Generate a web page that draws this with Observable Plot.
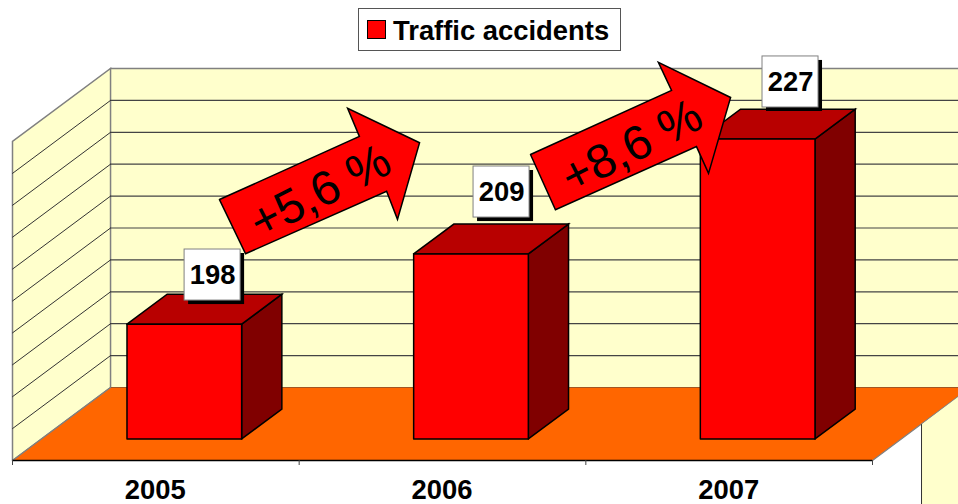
<!DOCTYPE html>
<html>
<head>
<meta charset="utf-8">
<script src="https://cdn.jsdelivr.net/npm/d3@7"></script>
<script src="https://cdn.jsdelivr.net/npm/@observablehq/plot@0.6"></script>
<style>
html,body{margin:0;padding:0;background:#fff;overflow:hidden}
#chart{position:relative;width:958px;height:504px;font-family:"Liberation Sans",Arial,sans-serif}
#chart svg{display:block}
#legend{position:absolute;left:358px;top:8px;width:261px;height:41px;background:#fff;border:1px solid #555;display:flex;align-items:center;font-weight:bold;font-size:27.4px;color:#000;white-space:nowrap}
#legend i{display:block;width:17px;height:17px;background:#f00;border:1px solid #000;margin:0 7px 0 8px}
#legend span{position:relative;top:1px}
</style>
</head>
<body>
<div id="chart"><div id="legend"><i></i><span>Traffic accidents</span></div></div>
<script>
// Data
const categories = ["2005", "2006", "2007"];
const values = [198, 209, 227];
const seriesName = "Traffic accidents";
const gridValues = [180, 185, 190, 195, 200, 205, 210, 215, 220, 225, 230];
const labelCenterX = [0.698, 1.706, 2.714];
const labelCenterY = [209.07, 222.08, 239.33];
const arrowTexts = ["+5,6 %", "+8,6 %"];
const arrowTextX = [1.074, 2.161];
const arrowTextY = [222.1, 229.2];
const arrowXs = [
  [0.722, 1.210, 1.169, 1.420, 1.343, 1.305, 0.813],
  [1.807, 2.299, 2.253, 2.505, 2.428, 2.386, 1.894]
];
const arrowYs = [
  [220.9, 230.8, 235.2, 229.8, 217.8, 222.2, 212.4],
  [227.96, 238.0, 242.4, 236.9, 225.0, 229.2, 219.3]
];

// Oblique projection, in scale units
const depthX = 0.342, depthY = 11.44;
const barFrom = 0.2985, barTo = 0.6985, depthFrom = 0.295, depthTo = 0.705;
const base = 180, top_ = 230, xEnd = 3;
const P = (x, v, d = 0) => ({x: x + d * depthX, y: v + d * depthY});
const closed = pts => [...pts, pts[0]];
const poly = (pts, fill, stroke = "none", strokeWidth = 1.5) =>
  Plot.line(closed(pts), {x: "x", y: "y", fill, stroke, strokeWidth, strokeMiterlimit: 10, strokeLinejoin: "miter"});

const marks = [];
// back and side walls
marks.push(poly([P(0, base, 1), P(0, top_, 1), P(xEnd, top_, 1), P(xEnd, base, 1)], "#FFFFCC"));
marks.push(poly([P(0, base), P(0, top_), P(0, top_, 1), P(0, base, 1)], "#FFFFCC", "#808080"));
// gridlines
gridValues.forEach(v => {
  const isTop = v === top_;
  const c = isTop ? "#808080" : "#444";
  marks.push(Plot.line([P(0, v, 1), P(xEnd, v, 1)], {x: "x", y: "y", stroke: c, strokeWidth: isTop ? 1.6 : 1.2}));
  if (!isTop && v !== base) marks.push(Plot.line([P(0, v), P(0, v, 1)], {x: "x", y: "y", stroke: "#333", strokeWidth: 1}));
});
// floor
marks.push(poly([P(0, base), P(xEnd, base), P(xEnd, base, 1), P(0, base, 1)], "#FF6600"));
marks.push(Plot.line([P(0, base), P(0, base, 1)], {x: "x", y: "y", stroke: "#808080", strokeWidth: 1.2}));
marks.push(Plot.line([P(xEnd, base), P(xEnd, base, 1)], {x: "x", y: "y", stroke: "#808080", strokeWidth: 1.2}));
// piece of wall visible lower right
marks.push(poly([{x: 3.171, y: 185.64}, {x: 3.171, y: 173}, {x: 3.342, y: 173}, {x: 3.342, y: 191.44}], "#FFFFCC"));
marks.push(Plot.line([{x: 3.171, y: 185.64}, {x: 3.171, y: 173}], {x: "x", y: "y", stroke: "#333", strokeWidth: 1}));
// bars
values.forEach((v, i) => {
  const a = i + barFrom, b = i + barTo;
  marks.push(poly([P(b, base, depthFrom), P(b, v, depthFrom), P(b, v, depthTo), P(b, base, depthTo)], "#800000", "#000"));
  marks.push(poly([P(a, v, depthFrom), P(b, v, depthFrom), P(b, v, depthTo), P(a, v, depthTo)], "#B80000", "#000"));
  marks.push(poly([P(a, base, depthFrom), P(b, base, depthFrom), P(b, v, depthFrom), P(a, v, depthFrom)], "#FF0000", "#000"));
});
// value labels
const labels = values.map((v, i) => ({v, x: labelCenterX[i], y: labelCenterY[i]}));
const hw = 0.0977, hh = 4.0;
const boxCh = {x1: d => d.x - hw, x2: d => d.x + hw, y1: d => d.y - hh, y2: d => d.y + hh};
marks.push(Plot.rect(labels, {...boxCh, fill: "#000", dx: 4, dy: 4}));
marks.push(Plot.rect(labels, {...boxCh, fill: "#fff", stroke: "#808080", strokeWidth: 1}));
marks.push(Plot.text(labels, {x: "x", y: "y", text: d => String(d.v), fontSize: 27.4, fontWeight: "bold", fill: "#000"}));
// growth arrows
arrowXs.forEach((xs, k) => {
  marks.push(poly(xs.map((x, j) => ({x, y: arrowYs[k][j]})), "#FF0000", "#000"));
  marks.push(Plot.text([arrowTexts[k]], {x: () => arrowTextX[k], y: () => arrowTextY[k], text: d => d, rotate: -27, fontSize: 48, fill: "#000"}));
});
// axis
marks.push(Plot.ruleY([base], {x1: 0, x2: xEnd, stroke: "#000", strokeWidth: 1.5}));
marks.push(Plot.axisX({ticks: d3.range(xEnd + 1), tickFormat: () => "", tickSize: 5, stroke: "#444", anchor: "bottom", label: null}));
marks.push(Plot.axisX({ticks: categories.map((c, i) => i + 0.5), tickFormat: d => categories[d - 0.5], tickSize: 0, tickPadding: 30, anchor: "bottom", label: null, fontSize: 27.4, fontWeight: "bold", fill: "#000", lineAnchor: "middle", dx: -0.5}));

const chart = Plot.plot({
  width: 958,
  height: 504,
  marginLeft: 12,
  marginRight: 86,
  marginTop: 141,
  marginBottom: 44,
  style: {background: "transparent", fontFamily: "'Liberation Sans', Arial, sans-serif", overflow: "hidden"},
  x: {type: "linear", domain: [0, xEnd], range: [12, 872], axis: null},
  y: {type: "linear", domain: [base, top_], range: [460, 141], axis: null},
  marks
});
document.getElementById("chart").prepend(chart);
document.getElementById("legend").setAttribute("aria-label", seriesName);
</script>
</body>
</html>
